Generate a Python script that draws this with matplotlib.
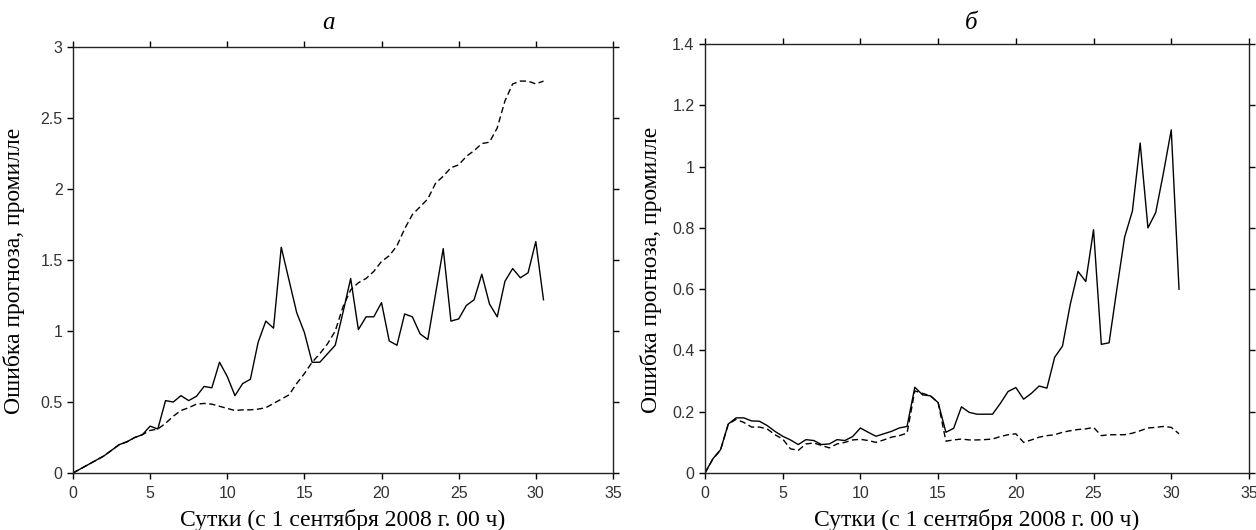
import numpy as np
import matplotlib.pyplot as plt
from matplotlib.ticker import FuncFormatter

# Time axis: every 12 hours from 0 to 30.5 days
days = np.arange(0, 31, 0.5)

# Panel "а"
err_a_solid = [0.0, 0.03, 0.06, 0.09, 0.12, 0.16, 0.20, 0.22, 0.25, 0.27,
               0.33, 0.31, 0.51, 0.50, 0.545, 0.51, 0.54, 0.61, 0.60, 0.78,
               0.68, 0.545, 0.63, 0.66, 0.92, 1.07, 1.02, 1.59, 1.36, 1.13,
               0.99, 0.78, 0.78, 0.84, 0.90, 1.13, 1.37, 1.01, 1.10, 1.10,
               1.20, 0.93, 0.90, 1.12, 1.10, 0.98, 0.94, 1.26, 1.58, 1.07,
               1.085, 1.18, 1.22, 1.40, 1.19, 1.10, 1.35, 1.44, 1.375, 1.41,
               1.63, 1.22]
err_a_dash = [0.0, 0.03, 0.06, 0.09, 0.12, 0.16, 0.20, 0.22, 0.25, 0.27,
              0.30, 0.31, 0.35, 0.40, 0.44, 0.46, 0.485, 0.49, 0.485, 0.47,
              0.455, 0.44, 0.445, 0.445, 0.45, 0.46, 0.49, 0.52, 0.55, 0.63,
              0.70, 0.78, 0.84, 0.91, 1.00, 1.17, 1.29, 1.34, 1.37, 1.42,
              1.49, 1.53, 1.60, 1.72, 1.82, 1.875, 1.93, 2.04, 2.09, 2.15,
              2.17, 2.23, 2.27, 2.32, 2.33, 2.43, 2.62, 2.74, 2.76, 2.76,
              2.74, 2.76]

# Panel "б"
err_b_solid = [0.0, 0.046, 0.076, 0.16, 0.18, 0.18, 0.17, 0.169, 0.155, 0.136,
               0.12, 0.108, 0.093, 0.109, 0.106, 0.093, 0.095, 0.109, 0.106, 0.119,
               0.147, 0.133, 0.12, 0.128, 0.136, 0.147, 0.152, 0.28, 0.255, 0.252,
               0.23, 0.133, 0.146, 0.216, 0.198, 0.192, 0.192, 0.192, 0.227, 0.266,
               0.279, 0.241, 0.26, 0.284, 0.277, 0.378, 0.414, 0.55, 0.658, 0.625,
               0.794, 0.42, 0.425, 0.60, 0.77, 0.855, 1.077, 0.80, 0.85, 0.98,
               1.12, 0.60]
err_b_dash = [0.0, 0.045, 0.075, 0.16, 0.175, 0.165, 0.15, 0.15, 0.144, 0.125,
              0.111, 0.079, 0.074, 0.095, 0.098, 0.09, 0.082, 0.095, 0.10, 0.108,
              0.11, 0.106, 0.10, 0.108, 0.117, 0.122, 0.13, 0.268, 0.26, 0.252,
              0.23, 0.104, 0.108, 0.111, 0.108, 0.108, 0.109, 0.111, 0.119, 0.125,
              0.128, 0.10, 0.108, 0.117, 0.122, 0.125, 0.133, 0.138, 0.142, 0.144,
              0.149, 0.122, 0.125, 0.125, 0.125, 0.13, 0.138, 0.147, 0.149, 0.152,
              0.149, 0.128]

xlabel = 'Сутки (с 1 сентября 2008 г. 00 ч)'
ylabel = 'Ошибка прогноза, промилле'

fig = plt.figure(figsize=(12.56, 5.3), dpi=100)
ax_a = fig.add_axes([0.0581, 0.1075, 0.4299, 0.8038])
ax_b = fig.add_axes([0.5613, 0.1075, 0.4331, 0.8094])

# axes, solid, dashed, y max, y ticks, title, title x, ylabel x, title y, xlabel y
panels = [
    (ax_a, err_a_solid, err_a_dash, 3, np.arange(0, 3.01, 0.5), 'а', 0.474, -0.11, 1.042, -0.124),
    (ax_b, err_b_solid, err_b_dash, 1.4, np.arange(0, 1.41, 0.2), 'б', 0.49, -0.099, 1.035, -0.123),
]

for ax, solid, dash, ymax, yticks, title, tx, ylx, ty, xly in panels:
    ax.plot(days, solid, color='black', linewidth=1.0)
    ax.plot(days, dash, color='black', linewidth=1.0, dashes=(4.5, 2.5))
    ax.set_xlim(0, 35)
    ax.set_ylim(0, ymax)
    ax.set_xticks(np.arange(0, 36, 5))
    ax.set_yticks(yticks)
    ax.yaxis.set_major_formatter(FuncFormatter(lambda v, p: '%g' % round(v, 2)))
    ax.tick_params(direction='out', length=4.5, width=1, labelsize=11.5,
                   top=True, right=True, labelcolor='#333333')
    ax.tick_params(axis='x', pad=5)
    ax.tick_params(axis='y', pad=3)
    for t in ax.get_xticklabels() + ax.get_yticklabels():
        t.set_family('Liberation Sans')
    for s in ax.spines.values():
        s.set_linewidth(1.0)
        s.set_color('#222222')
    ax.set_xlabel(xlabel, family='Liberation Serif', fontsize=17)
    ax.xaxis.label.set_va('baseline')
    ax.xaxis.set_label_coords(0.5, xly)
    ax.set_ylabel(ylabel, family='Liberation Serif', fontsize=17)
    ax.yaxis.label.set_va('center')
    ax.yaxis.set_label_coords(ylx, 0.474)
    ax.text(tx, ty, title, transform=ax.transAxes, ha='center', va='baseline',
            family='Liberation Serif', style='italic', fontsize=18)

fig.savefig('out.png', dpi=100)
